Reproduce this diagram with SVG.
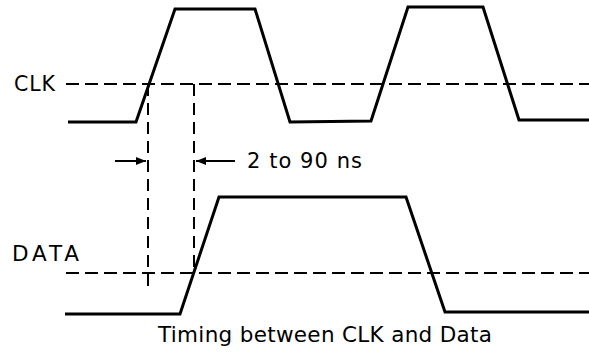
<svg xmlns="http://www.w3.org/2000/svg" width="589" height="358" viewBox="0 0 589 358">
<style>
.wave{fill:none;stroke:#000;stroke-width:3;stroke-linejoin:miter}
.dash{fill:none;stroke:#000;stroke-width:2;stroke-dasharray:13 6}
.vdash{fill:none;stroke:#000;stroke-width:2;stroke-dasharray:12 7}
.arr{fill:none;stroke:#000;stroke-width:2}
text{font-family:"DejaVu Sans","Liberation Sans",Arial,sans-serif;fill:#000}
</style>
<defs>
<marker id="ah" viewBox="0 0 10 10" refX="10" refY="5" markerWidth="10" markerHeight="10" markerUnits="userSpaceOnUse" orient="auto">
<path d="M0,1 L10,5 L0,9 Z" fill="#000"/>
</marker>
</defs>
<rect width="589" height="358" fill="#fff"/>
<g id="clk">
<text x="14" y="91" font-size="20.5" textLength="41" lengthAdjust="spacing">CLK</text>
<line class="dash" x1="66" y1="84" x2="589" y2="84"/>
<polyline class="wave" points="68,122 136,122 175,9 255,9 290,122 371,121 408,7 483,7 519,120 589,120"/>
</g>
<g id="data">
<text x="12" y="261" font-size="21.5" textLength="67" lengthAdjust="spacing">DATA</text>
<line class="dash" x1="66" y1="273" x2="589" y2="273"/>
<polyline class="wave" points="65,314 180,314 219,197 406,197 445,312 589,312"/>
</g>
<g id="connectors">
<line class="vdash" x1="148" y1="84" x2="148" y2="289"/>
<line class="vdash" x1="194" y1="84" x2="194" y2="274"/>
<line class="arr" x1="115" y1="161" x2="146" y2="161" marker-end="url(#ah)"/>
<line class="arr" x1="235" y1="161" x2="196" y2="161" marker-end="url(#ah)"/>
</g>
<g id="label">
<text x="247" y="168" font-size="21" textLength="115" lengthAdjust="spacing">2 to 90 ns</text>
</g>
<g id="caption">
<text x="158" y="342" font-size="21.5" textLength="334" lengthAdjust="spacing">Timing between CLK and Data</text>
</g>
</svg>
